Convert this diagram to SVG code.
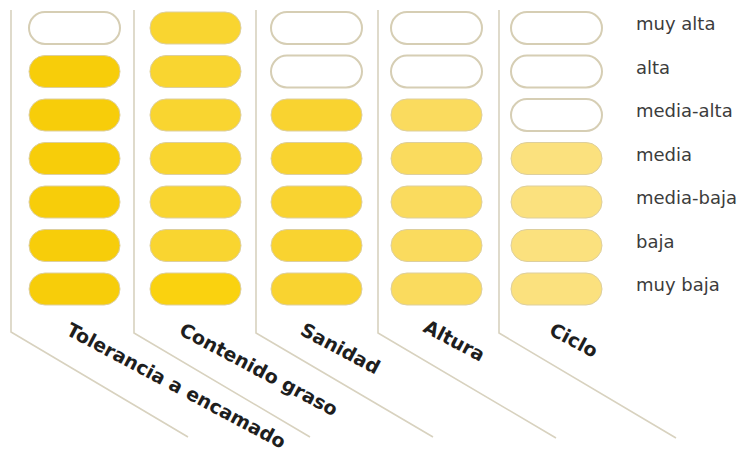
<svg xmlns="http://www.w3.org/2000/svg" width="748" height="459" viewBox="0 0 748 459">
<style>
.ln{fill:none;stroke:#D8D2BF;stroke-width:1.6}
.p{stroke:#DDCF9E;stroke-width:1}
.e{fill:#FFFFFF;stroke:#D6CEB4;stroke-width:2}
.c1{fill:#F7CD0A}.c2{fill:#F9D530}.c2b{fill:#FAD20F}.c3{fill:#F9D330}.c4{fill:#FADB5E}.c5{fill:#FBE17E}
.lv{font-family:"DejaVu Sans",sans-serif;font-size:18px;fill:#3C3C3C}
.hd{font-family:"DejaVu Sans",sans-serif;font-weight:bold;font-size:19px;fill:#1E1E1E}
</style>
<g id="connectors">
<polyline class="ln" points="11,10 11,332 188,437"/>
<polyline class="ln" points="134,10 134,333 310,437"/>
<polyline class="ln" points="256,10 256,333 433,437"/>
<polyline class="ln" points="378,10 378,333 556,438"/>
<polyline class="ln" points="499,10 499,333 676,438"/>
</g>
<g id="col-tolerancia">
<rect class="e" x="29" y="12" width="91" height="32" rx="16"/>
<rect class="p c1" x="29" y="55.5" width="91" height="32" rx="16"/>
<rect class="p c1" x="29" y="99" width="91" height="32" rx="16"/>
<rect class="p c1" x="29" y="142.5" width="91" height="32" rx="16"/>
<rect class="p c1" x="29" y="186" width="91" height="32" rx="16"/>
<rect class="p c1" x="29" y="229.5" width="91" height="32" rx="16"/>
<rect class="p c1" x="29" y="273" width="91" height="32" rx="16"/>
<text class="hd" transform="translate(65,334) rotate(28)">Tolerancia a encamado</text>
</g>
<g id="col-contenido">
<rect class="p c2" x="150" y="12" width="91" height="32" rx="16"/>
<rect class="p c2" x="150" y="55.5" width="91" height="32" rx="16"/>
<rect class="p c2" x="150" y="99" width="91" height="32" rx="16"/>
<rect class="p c2" x="150" y="142.5" width="91" height="32" rx="16"/>
<rect class="p c2" x="150" y="186" width="91" height="32" rx="16"/>
<rect class="p c2" x="150" y="229.5" width="91" height="32" rx="16"/>
<rect class="p c2b" x="150" y="273" width="91" height="32" rx="16"/>
<text class="hd" transform="translate(178,334) rotate(28)">Contenido graso</text>
</g>
<g id="col-sanidad">
<rect class="e" x="271" y="12" width="91" height="32" rx="16"/>
<rect class="e" x="271" y="55.5" width="91" height="32" rx="16"/>
<rect class="p c3" x="271" y="99" width="91" height="32" rx="16"/>
<rect class="p c3" x="271" y="142.5" width="91" height="32" rx="16"/>
<rect class="p c3" x="271" y="186" width="91" height="32" rx="16"/>
<rect class="p c3" x="271" y="229.5" width="91" height="32" rx="16"/>
<rect class="p c3" x="271" y="273" width="91" height="32" rx="16"/>
<text class="hd" transform="translate(299,334) rotate(28)">Sanidad</text>
</g>
<g id="col-altura">
<rect class="e" x="391" y="12" width="91" height="32" rx="16"/>
<rect class="e" x="391" y="55.5" width="91" height="32" rx="16"/>
<rect class="p c4" x="391" y="99" width="91" height="32" rx="16"/>
<rect class="p c4" x="391" y="142.5" width="91" height="32" rx="16"/>
<rect class="p c4" x="391" y="186" width="91" height="32" rx="16"/>
<rect class="p c4" x="391" y="229.5" width="91" height="32" rx="16"/>
<rect class="p c4" x="391" y="273" width="91" height="32" rx="16"/>
<text class="hd" transform="translate(422,331) rotate(28)">Altura</text>
</g>
<g id="col-ciclo">
<rect class="e" x="511" y="12" width="91" height="32" rx="16"/>
<rect class="e" x="511" y="55.5" width="91" height="32" rx="16"/>
<rect class="e" x="511" y="99" width="91" height="32" rx="16"/>
<rect class="p c5" x="511" y="142.5" width="91" height="32" rx="16"/>
<rect class="p c5" x="511" y="186" width="91" height="32" rx="16"/>
<rect class="p c5" x="511" y="229.5" width="91" height="32" rx="16"/>
<rect class="p c5" x="511" y="273" width="91" height="32" rx="16"/>
<text class="hd" transform="translate(548,334) rotate(28)">Ciclo</text>
</g>
<g id="levels">
<text class="lv" x="636" y="30">muy alta</text>
<text class="lv" x="636" y="73.5">alta</text>
<text class="lv" x="636" y="117">media-alta</text>
<text class="lv" x="636" y="160.5">media</text>
<text class="lv" x="636" y="204">media-baja</text>
<text class="lv" x="636" y="247.5">baja</text>
<text class="lv" x="636" y="291">muy baja</text>
</g>
</svg>
